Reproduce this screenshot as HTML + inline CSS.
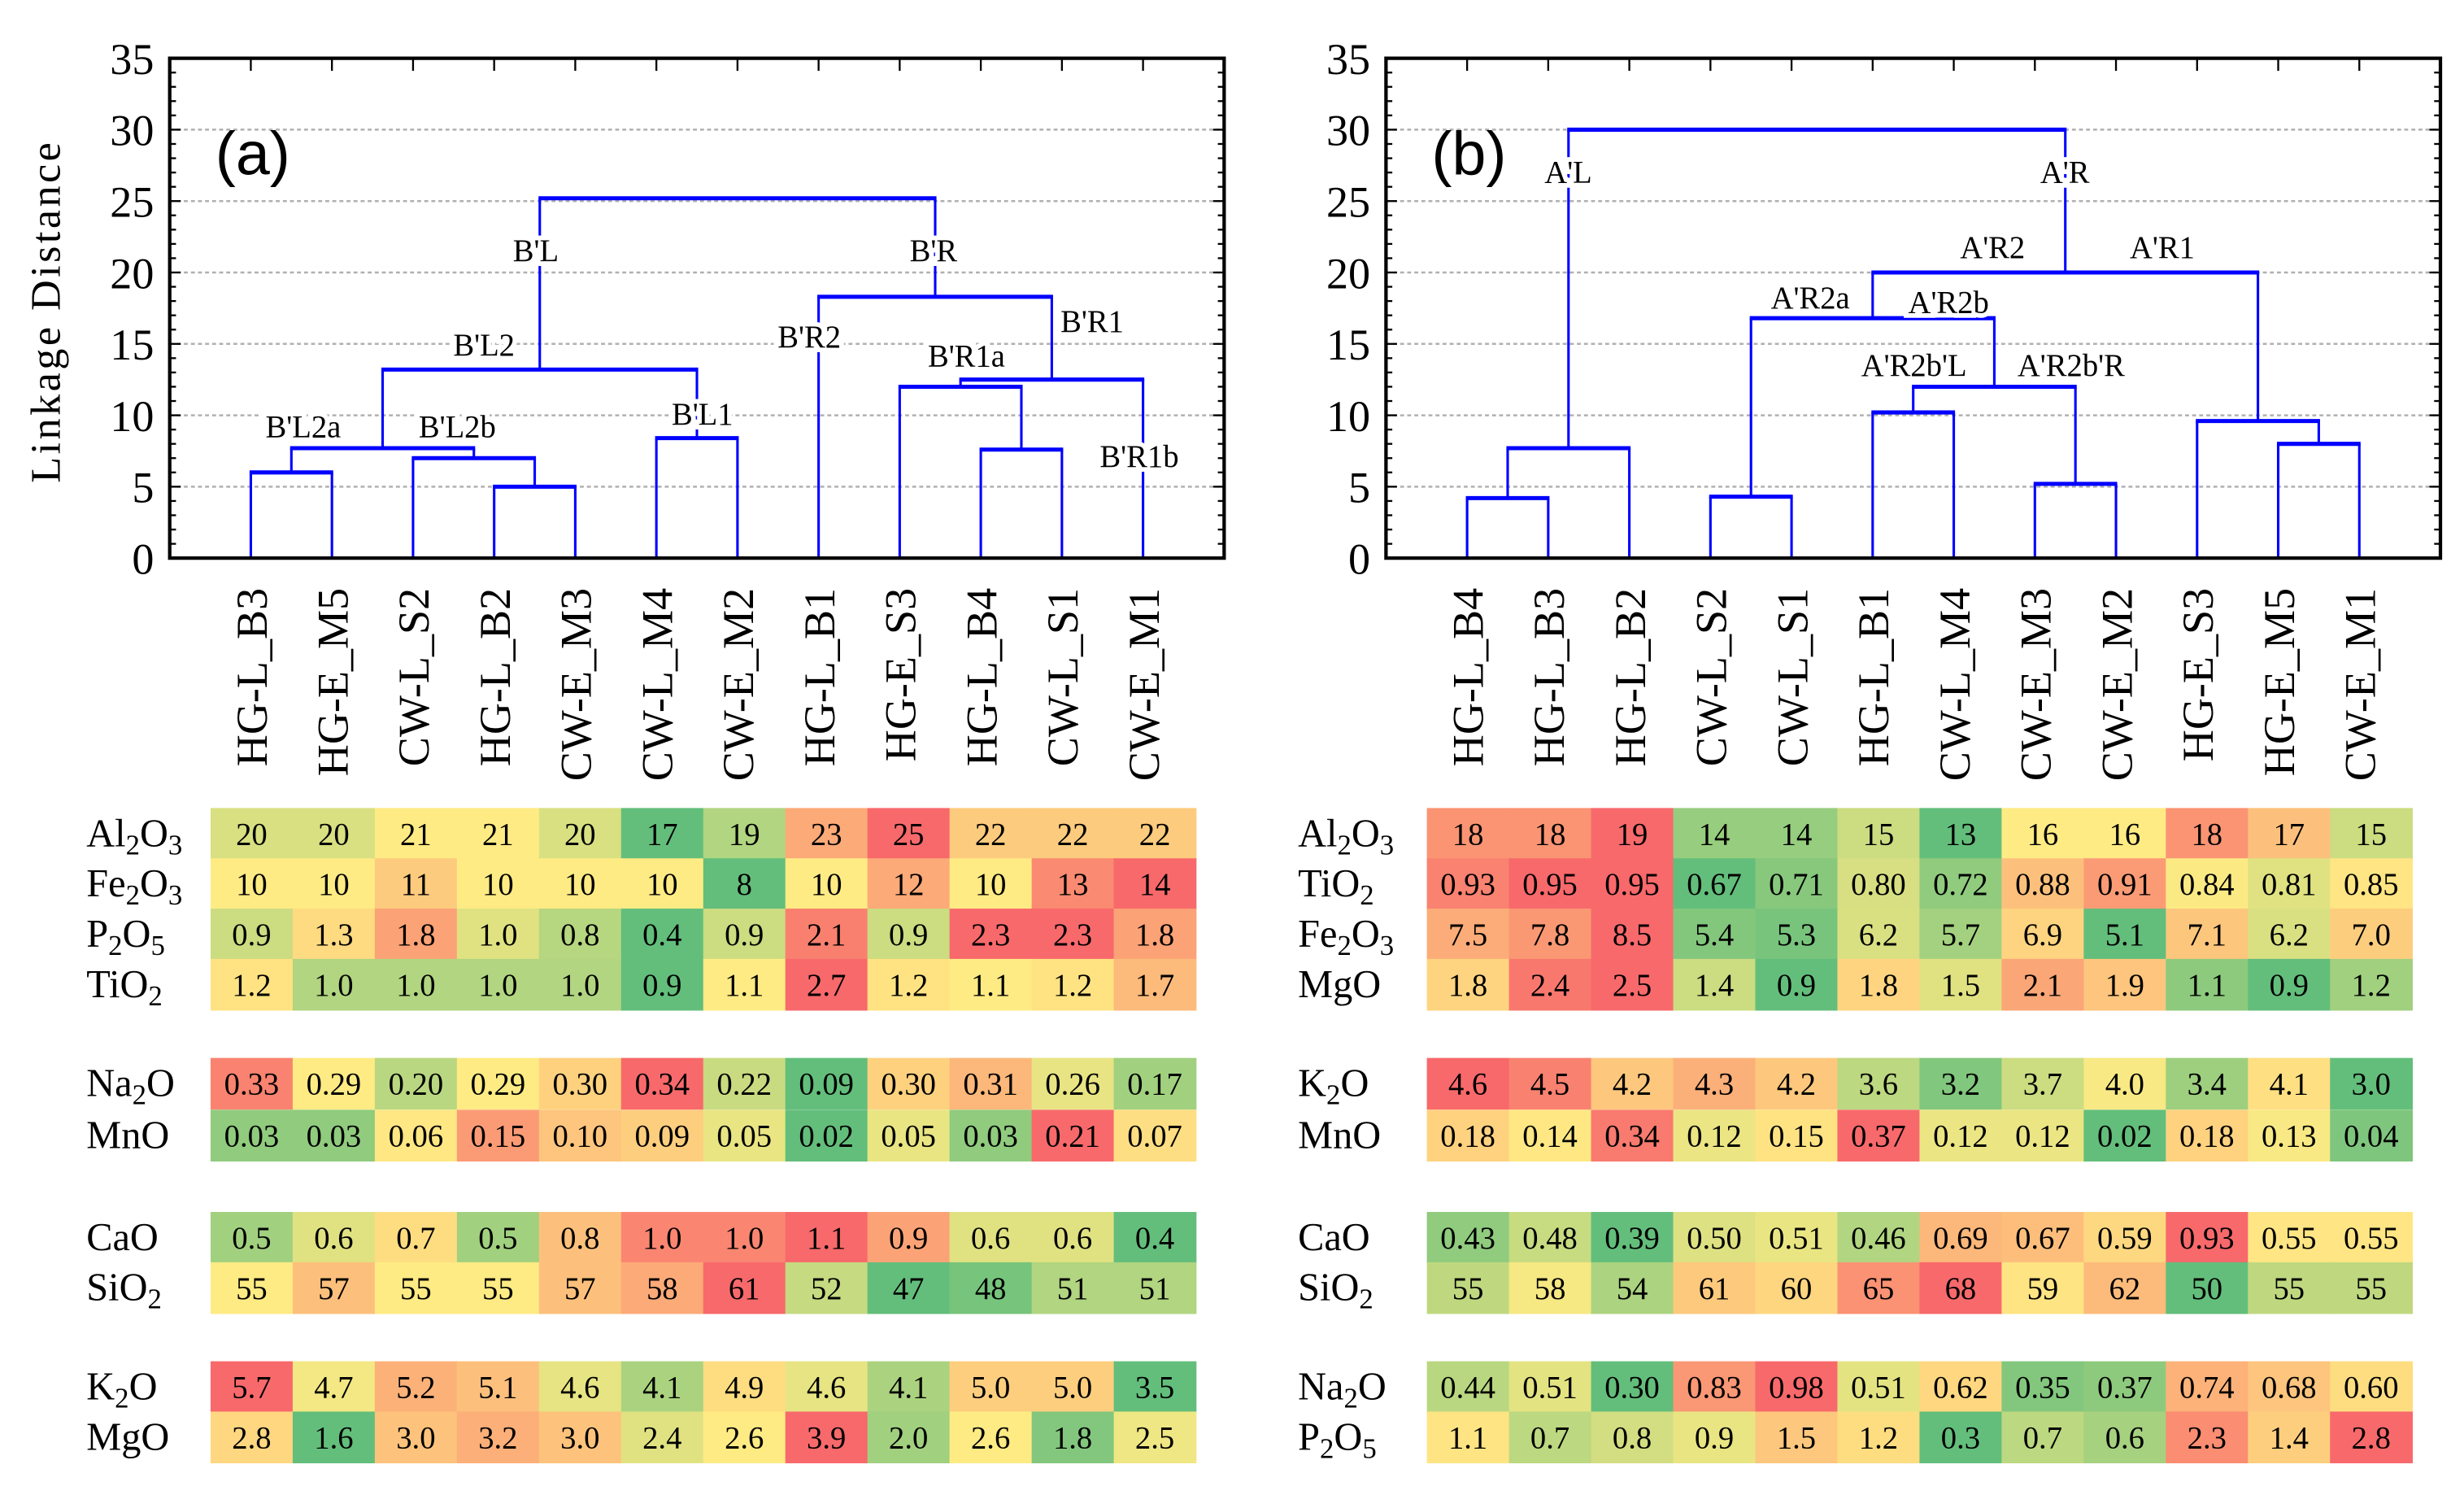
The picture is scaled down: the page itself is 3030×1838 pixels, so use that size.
<!DOCTYPE html>
<html><head><meta charset="utf-8"><title>Dendrograms and heatmaps</title>
<style>html,body{margin:0;padding:0;background:#fff}svg{display:block}</style></head>
<body>
<svg id="fig" xmlns="http://www.w3.org/2000/svg" width="3030" height="1838" viewBox="0 0 1568 951" font-family="'Liberation Serif', serif">
<rect width="1568" height="951" fill="#fff"/>
<text transform="translate(38,198) rotate(-90)" text-anchor="middle" font-size="27" letter-spacing="1.8">Linkage Distance</text>
</svg>
<script>
const NS="http://www.w3.org/2000/svg";
const svg=document.getElementById('fig');
// ---- data ----
const leavesA=["HG-L_B3","HG-E_M5","CW-L_S2","HG-L_B2","CW-E_M3","CW-L_M4","CW-E_M2","HG-L_B1","HG-E_S3","HG-L_B4","CW-L_S1","CW-E_M1"];
const leavesB=["HG-L_B4","HG-L_B3","HG-L_B2","CW-L_S2","CW-L_S1","HG-L_B1","CW-L_M4","CW-E_M3","CW-E_M2","HG-E_S3","HG-E_M5","CW-E_M1"];
const mergeLeftA=[0,3,2,12,5,15,9,8,19,7,17];
const mergeRightA=[1,4,13,14,6,16,10,18,11,20,21];
const mergeHeightA=[6.0,5.0,7.0,7.7,8.4,13.2,7.6,12.0,12.5,18.3,25.2];
const mergeLeftB=[0,12,3,5,7,15,14,10,9,18,13];
const mergeRightB=[1,2,4,6,8,16,17,11,19,20,21];
const mergeHeightB=[4.2,7.7,4.3,10.2,5.2,12.0,16.8,8.0,9.6,20.0,30.0];
const clusterNamesA=["B'L","B'R","B'L2","B'R2","B'R1","B'R1a","B'L1","B'L2a","B'L2b","B'R1b"];
const clusterNamesB=["A'L","A'R","A'R2","A'R1","A'R2a","A'R2b","A'R2b'L","A'R2b'R"];
const yTicks=[0,5,10,15,20,25,30,35];
const rowsA=[["Al","2","O","3"],["Fe","2","O","3"],["P","2","O","5"],["Ti","O","2",""],["Na","2","O",""],["MnO","","",""],["CaO","","",""],["Si","O","2",""],["K","2","O",""],["MgO","","",""]];
const valsA=[
["20","20","21","21","20","17","19","23","25","22","22","22"],
["10","10","11","10","10","10","8","10","12","10","13","14"],
["0.9","1.3","1.8","1.0","0.8","0.4","0.9","2.1","0.9","2.3","2.3","1.8"],
["1.2","1.0","1.0","1.0","1.0","0.9","1.1","2.7","1.2","1.1","1.2","1.7"],
["0.33","0.29","0.20","0.29","0.30","0.34","0.22","0.09","0.30","0.31","0.26","0.17"],
["0.03","0.03","0.06","0.15","0.10","0.09","0.05","0.02","0.05","0.03","0.21","0.07"],
["0.5","0.6","0.7","0.5","0.8","1.0","1.0","1.1","0.9","0.6","0.6","0.4"],
["55","57","55","55","57","58","61","52","47","48","51","51"],
["5.7","4.7","5.2","5.1","4.6","4.1","4.9","4.6","4.1","5.0","5.0","3.5"],
["2.8","1.6","3.0","3.2","3.0","2.4","2.6","3.9","2.0","2.6","1.8","2.5"]];
const rowsB=[["Al","2","O","3"],["Ti","O","2",""],["Fe","2","O","3"],["MgO","","",""],["K","2","O",""],["MnO","","",""],["CaO","","",""],["Si","O","2",""],["Na","2","O",""],["P","2","O","5"]];
const valsB=[
["18","18","19","14","14","15","13","16","16","18","17","15"],
["0.93","0.95","0.95","0.67","0.71","0.80","0.72","0.88","0.91","0.84","0.81","0.85"],
["7.5","7.8","8.5","5.4","5.3","6.2","5.7","6.9","5.1","7.1","6.2","7.0"],
["1.8","2.4","2.5","1.4","0.9","1.8","1.5","2.1","1.9","1.1","0.9","1.2"],
["4.6","4.5","4.2","4.3","4.2","3.6","3.2","3.7","4.0","3.4","4.1","3.0"],
["0.18","0.14","0.34","0.12","0.15","0.37","0.12","0.12","0.02","0.18","0.13","0.04"],
["0.43","0.48","0.39","0.50","0.51","0.46","0.69","0.67","0.59","0.93","0.55","0.55"],
["55","58","54","61","60","65","68","59","62","50","55","55"],
["0.44","0.51","0.30","0.83","0.98","0.51","0.62","0.35","0.37","0.74","0.68","0.60"],
["1.1","0.7","0.8","0.9","1.5","1.2","0.3","0.7","0.6","2.3","1.4","2.8"]];

// ---- layout (not data) ----
const rowTop=[514,546,578,610,673,706,771,803,866,898];
const rowH=32.5;
function mk(tag,attrs,parent){const e=document.createElementNS(NS,tag);for(const k in attrs)e.setAttribute(k,attrs[k]);(parent||svg).appendChild(e);return e;}

function drawPanel(cfg){
  const g=mk('g',{});
  
  
  const x0=cfg.x0,x1=cfg.x0+671,yTop=37,yBot=355;
  const ys=v=>yBot-(v/35)*(yBot-yTop);
  const step=(x1-x0)/13;
  const lx=i=>x0+step*(i+1);
  yTicks.forEach(t=>{if(t>0&&t<35){const l=mk('line',{x1:x0,x2:x1,y1:ys(t),y2:ys(t),stroke:'#b0b0b0','stroke-width':1.3,'stroke-dasharray':'2.5,2'},g);
    }
    const tl=mk('text',{x:x0-10,y:ys(t)+10,'text-anchor':'end','font-size':28},g);tl.textContent=t;
    
  });
  for(let v=0;v<=35;v++){const len=v%5===0?7:4;
    mk('line',{x1:x0,x2:x0+len,y1:ys(v),y2:ys(v),stroke:'#000','stroke-width':1.2},g);
    mk('line',{x1:x1,x2:x1-len,y1:ys(v),y2:ys(v),stroke:'#000','stroke-width':1.2},g);}
  for(let i=0;i<12;i++){mk('line',{x1:lx(i),x2:lx(i),y1:yTop,y2:yTop+8,stroke:'#000','stroke-width':1.2},g);
    mk('line',{x1:lx(i),x2:lx(i),y1:yBot,y2:yBot-6,stroke:'#000','stroke-width':1.2},g);}
  const nx=[],nh=[];
  for(let i=0;i<12;i++){nx[i]=lx(i);nh[i]=0;}
  for(let m=0;m<cfg.L.length;m++){
    const a=cfg.L[m],b=cfg.R[m],h=cfg.H[m],id=12+m;
    nx[id]=(nx[a]+nx[b])/2;nh[id]=h;
    [a,b].forEach(c=>{const v=mk('line',{x1:nx[c],x2:nx[c],y1:ys(nh[c]),y2:ys(h),stroke:'#0000ff','stroke-width':1.6},g);
      });
    const hl=mk('line',{x1:nx[a]-0.8,x2:nx[b]+0.8,y1:ys(h),y2:ys(h),stroke:'#0000ff','stroke-width':2.6},g);
    
  }
  cfg.labels.forEach((nm,i)=>{const p=cfg.lpos[i];
    const t=mk('text',{x:p[0],y:p[1],'text-anchor':'middle','font-size':20,stroke:'#fff','stroke-width':6,'paint-order':'stroke'},g);
    t.textContent=nm;});
  const fr=mk('rect',{x:x0,y:yTop,width:x1-x0,height:yBot-yTop,fill:'none',stroke:'#000','stroke-width':2.2},g);
  
  const pl=mk('text',{x:x0+29,y:111,'font-size':39,'font-family':"'Liberation Sans', sans-serif"},g);pl.textContent=cfg.tag;
  
  cfg.leaves.forEach((s,i)=>{const t=mk('text',{transform:`translate(${lx(i)+10},374) rotate(-90)`,'text-anchor':'end','font-size':28},g);
    t.textContent=s;});
  const hx0=cfg.hx0,cw=(627)/12;
  cfg.rows.forEach((r,ri)=>{
    const vals=cfg.vals[ri].map(parseFloat);
    const srt=[...vals].sort((p,q)=>p-q);const mn=srt[0],mx=srt[11],md=(srt[5]+srt[6])/2;
    const lbl=mk('text',{x:cfg.lblx,y:rowTop[ri]+rowH/2+8,'font-size':25},g);
    
    if(r[1]===''){lbl.textContent=r[0];}
    else{const parts=[[r[0],0],[r[1],r[0]==='Ti'||r[0]==='Si'?0:1],[r[2],r[0]==='Ti'||r[0]==='Si'?1:0],[r[3],1]];
      parts.forEach(([s,sub])=>{if(!s)return;const ts=mk('tspan',sub?{'font-size':18}:{},lbl);ts.textContent=s;
        if(sub){ts.setAttribute('baseline-shift','-5');}});}
    vals.forEach((v,ci)=>{
      const col=colorFor(v,mn,md,mx);
      const c=mk('rect',{x:hx0+ci*cw,y:rowTop[ri],width:cw+0.4,height:rowH+0.4,fill:col},g);
      
      const t=mk('text',{x:hx0+ci*cw+cw/2,y:rowTop[ri]+rowH/2+7,'text-anchor':'middle','font-size':20},g);
      t.textContent=cfg.vals[ri][ci];
    });
  });
}
function lerp(a,b,t){return a.map((x,i)=>Math.round(x+(b[i]-x)*t));}
function colorFor(v,mn,md,mx){const G=[99,190,123],Y=[255,235,132],R=[248,105,107];let c;
  if(v<=md){c=md>mn?lerp(G,Y,(v-mn)/(md-mn)):Y;}else{c=mx>md?lerp(Y,R,(v-md)/(mx-md)):Y;}
  return `rgb(${c[0]},${c[1]},${c[2]})`;}

drawPanel({name:'panel-a',tag:'(a)',x0:108,leaves:leavesA,L:mergeLeftA,R:mergeRightA,H:mergeHeightA,
  labels:clusterNamesA,lpos:[[341,166],[594,166],[308,226],[515,221],[695,211],[615,233],[447,270],[193,278],[291,278],[725,297]],
  rows:rowsA,vals:valsA,hx0:134,lblx:55});
drawPanel({name:'panel-b',tag:'(b)',x0:882,leaves:leavesB,L:mergeLeftB,R:mergeRightB,H:mergeHeightB,
  labels:clusterNamesB,lpos:[[998,116],[1314,116],[1268,164],[1376,164],[1152,196],[1240,199],[1218,239],[1318,239]],
  rows:rowsB,vals:valsB,hx0:908,lblx:826});
</script>
</body></html>
